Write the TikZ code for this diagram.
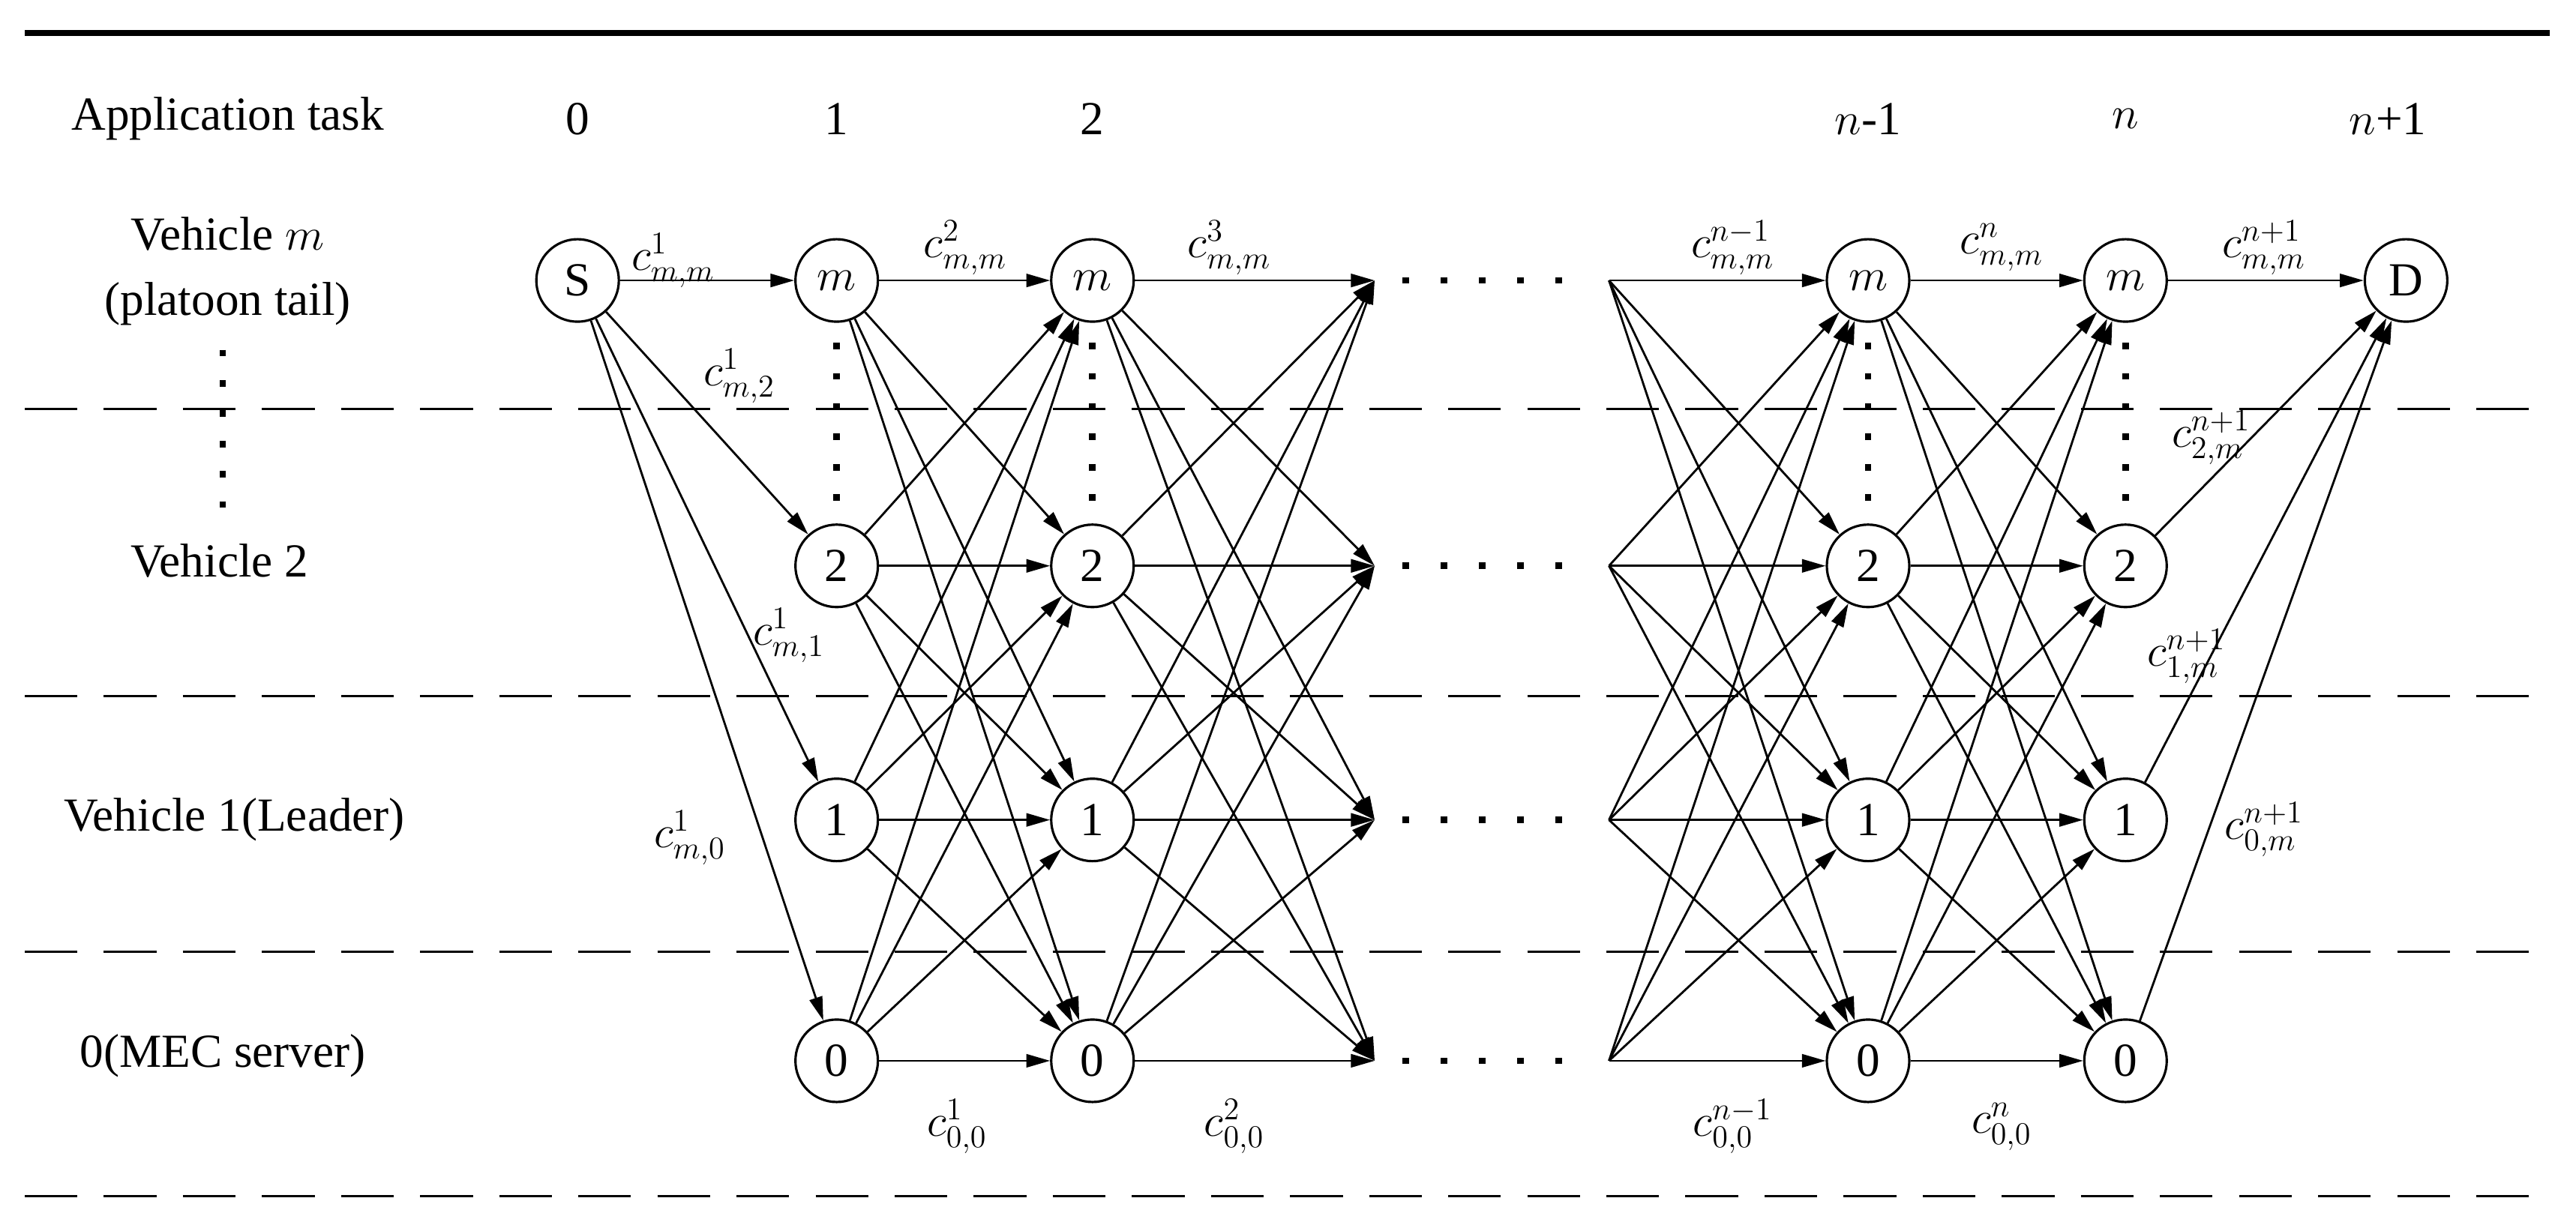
\documentclass[tikz,border=0pt]{standalone}
\usepackage{fontspec}
\setmainfont{Liberation Serif}
\usetikzlibrary{arrows.meta,calc}
\begin{document}
\begin{tikzpicture}[x=0.022cm,y=-0.022cm,
  st/.style={circle,draw,line width=0.9pt,minimum size=1.1cm,inner sep=0pt,font=\fontsize{18}{20}\selectfont},
  ar/.style={-{Triangle[length=9pt,width=5pt]},line width=0.8pt},
  lb/.style={font=\fontsize{18}{20}\selectfont},
  dl/.style={dash pattern=on 20pt off 10pt,line width=0.9pt},
  every node/.append style={font=\fontsize{18}{20}\selectfont}]
\useasboundingbox (0,0) rectangle (1561,744);
\draw[line width=2.5pt] (15,20) -- (1545,20);
\foreach \y in {248,422,577,725} \draw[dl] (15,\y) -- (1545,\y);
\node at (138,72) {Application task};
\node at (350,72) {0};
\node at (507,72) {1};
\node at (662,72) {2};
\node at (1132,72) {$n$-1};
\node at (1288,72) {$n$};
\node at (1447,72) {$n$+1};
\node at (138,142) {Vehicle $m$};
\node at (138,184) {(platoon tail)};
\draw[line width=2.5pt,dash pattern=on 2.5pt off 9pt] (135,212) -- (135,312);
\node at (133,340) {Vehicle 2};
\node at (142,497) {Vehicle 1(Leader)};
\node at (135,640) {0(MEC server)};
\node[st] (S) at (350,170) {S};
\node[st] (D) at (1458,170) {D};
\foreach \c/\x in {a/507,b/662,e/1132,f/1288}{
  \node[st] (\c m) at (\x,170) {$m$};
  \node[st] (\c 2) at (\x,343) {2};
  \node[st] (\c 1) at (\x,497) {1};
  \node[st] (\c 0) at (\x,643) {0};
  \draw[line width=2.5pt,dash pattern=on 2.5pt off 9pt] ($(\c m.south)+(0,12)$) -- ($(\c 2.north)+(0,-10)$);
}
\foreach \r/\y in {m/170,2/343,1/497,0/643}{
  \coordinate (p\r) at (833,\y);
  \coordinate (q\r) at (975,\y);
  \draw[line width=2.5pt,dash pattern=on 2.5pt off 12pt] (850,\y) -- (965,\y);
}
\foreach \t in {m,2,1,0}{
  \draw[ar] (S) -- (a\t);
  \draw[ar] (f\t) -- (D);
  \foreach \s in {m,2,1,0}{
    \draw[ar] (a\s) -- (b\t);
    \draw[ar] (b\s) -- (p\t);
    \draw[ar] (q\s) -- (e\t);
    \draw[ar] (e\s) -- (f\t);
  }
}
\node at (408,158) {$c^{1}_{m,m}$};
\node at (448,228) {$c^{1}_{m,2}$};
\node at (478,385) {$c^{1}_{m,1}$};
\node at (418,508) {$c^{1}_{m,0}$};
\node at (585,150) {$c^{2}_{m,m}$};
\node at (745,150) {$c^{3}_{m,m}$};
\node at (1050,150) {$c^{n-1}_{m,m}$};
\node at (1213,150) {$c^{n}_{m,m}$};
\node at (1372,150) {$c^{n+1}_{m,m}$};
\node at (1340,265) {$c^{n+1}_{2,m}$};
\node at (1325,398) {$c^{n+1}_{1,m}$};
\node at (1372,503) {$c^{n+1}_{0,m}$};
\node at (580,683) {$c^{1}_{0,0}$};
\node at (748,683) {$c^{2}_{0,0}$};
\node at (1050,683) {$c^{n-1}_{0,0}$};
\node at (1213,683) {$c^{n}_{0,0}$};
\end{tikzpicture}
\end{document}
